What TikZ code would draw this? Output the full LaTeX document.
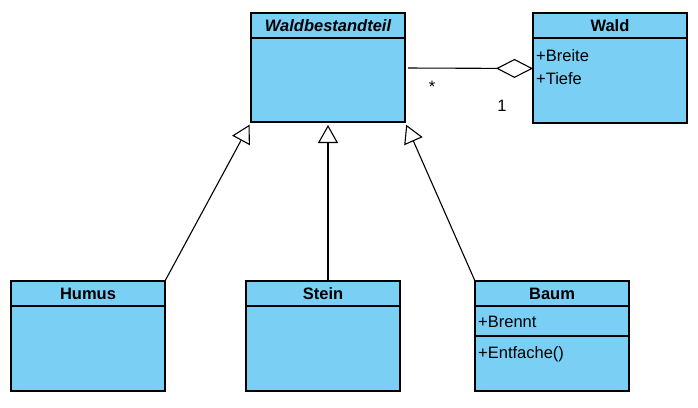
\documentclass[tikz,border=0pt]{standalone}
\usepackage{fontspec}
\setmainfont{Liberation Sans}
\usetikzlibrary{arrows.meta,positioning}
\definecolor{umlblue}{RGB}{122,207,245}
\newcommand\umlfont{\fontsize{16.5}{23}\selectfont}
\tikzset{
  classhead/.style={draw, fill=umlblue, line width=1.2pt, minimum width=154pt,
    minimum height=25pt, inner sep=0pt, outer sep=0pt, font=\umlfont\bfseries, anchor=north west},
  classbody/.style={draw, fill=umlblue, line width=1.2pt, minimum width=154pt,
    inner sep=0pt, outer sep=0pt},
  member/.style={anchor=north west, align=left, inner sep=0pt, font=\umlfont},
  inherit/.style={-{Triangle[open, length=18pt, width=20pt]}, line width=1.1pt},
  aggregate/.style={-{Diamond[open, length=37pt, width=19pt]}, line width=1.1pt},
}
\begin{document}
\begin{tikzpicture}[x=1pt, y=-1pt]
\useasboundingbox (0,0) rectangle (698,407);
% classes
\node[classhead] (wbt) at (251,13) {\itshape Waldbestandteil};
\node[classbody, minimum height=84pt, below=0pt of wbt] (wbtbody) {};
\node[classhead] (wald) at (533,13) {Wald};
\node[classbody, minimum height=85pt, below=0pt of wald] (waldbody) {};
\node[member] (waldattr) at ([xshift=3pt, yshift=-11pt]waldbody.north west) {+Breite\\+Tiefe};
\node[classhead] (humus) at (11,281) {Humus};
\node[classbody, minimum height=85pt, below=0pt of humus] (humusbody) {};
\node[classhead] (stein) at (246,281) {Stein};
\node[classbody, minimum height=85pt, below=0pt of stein] (steinbody) {};
\node[classhead] (baum) at (475,281) {Baum};
\node[classbody, minimum height=30pt, below=0pt of baum] (baumattr) {};
\node[classbody, minimum height=55pt, below=0pt of baumattr] (baumops) {};
\node[member] (brennt) at ([xshift=3pt, yshift=-10pt]baumattr.north west) {+Brennt};
\node[member] (entfache) at ([xshift=3pt, yshift=-10pt]baumops.north west) {+Entfache()};
% generalisation
\draw[inherit, shorten >=3pt] (humus.north east) -- (wbtbody.south west);
\draw[inherit, shorten >=3pt] (wbtbody.south |- stein.north) -- (wbtbody.south);
\draw[inherit, shorten >=3pt] (baum.north west) -- (wbtbody.south east);
% aggregation
\draw[aggregate, shorten <=3pt] ([yshift=12pt]wbtbody.east) -- ([yshift=12pt]waldbody.west);
\node[font=\umlfont] (many) at (432,87) {*};
\node[font=\umlfont] (one) at (502,106) {1};
\end{tikzpicture}
\end{document}
